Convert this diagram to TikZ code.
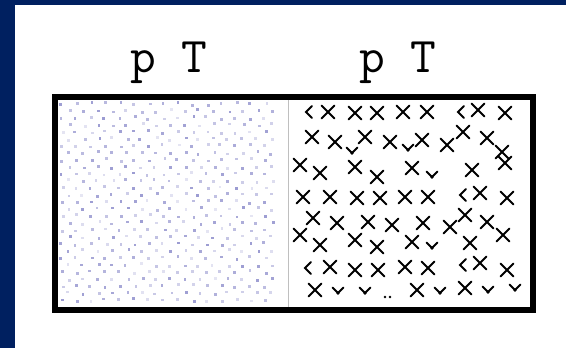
\documentclass[tikz,border=0pt]{standalone}
\definecolor{navy}{RGB}{0,32,96}
\definecolor{dotc}{RGB}{90,90,180}
\tikzset{
  xline/.style={line width=1.8pt, black, line cap=round},
  frame/.style={line width=6pt, line join=miter, black},
  lab/.style={font=\ttfamily\fontsize{50}{50}\selectfont, inner sep=0pt, anchor=base},
  divider/.style={line width=0.8pt, black!25},
}
\newcommand\mkX[2]{\draw[xline,shift={(#1,#2)}] (-6.5,-6.5) -- (6.5,6.5) (-6.5,6.5) -- (6.5,-6.5);}
\newcommand\mkV[2]{\draw[xline,shift={(#1,#2)}] (-5.5,-5.5) -- (0,0) -- (5.5,-5.5); \fill[shift={(#1,#2)}] (0,0) circle (1.8);}
\newcommand\mkL[2]{\draw[xline,shift={(#1,#2)}] (4,-6) -- (-2,0) -- (4,6);}
\begin{document}
\begin{tikzpicture}[x=1pt,y=-1pt]
  \useasboundingbox (0,0) rectangle (566,348);
  \fill[navy] (0,0) rectangle (566,348);
  \fill[white] (15,5) rectangle (566,348);
  % labels
  \node[lab] (lab1) at (169,72) {p T};
  \node[lab] (lab2) at (398,72) {p T};
  % left dots
  \pgfmathsetseed{3}
  \foreach \r in {0,...,28}{
    \foreach \c in {0,...,14}{
      \pgfmathsetmacro\px{62+\c*14.5+mod(\r,2)*7+rand*2}
      \pgfmathsetmacro\py{104+\r*7+rand*1.5}
      \pgfmathsetmacro\op{0.15+0.45*rnd}
      \fill[dotc,opacity=\op] (\px-1.4,\py-1.4) rectangle (\px+1.4,\py+1.4);
    }
  }
  % right crosses
  \mkL{308}{112} \mkX{328}{112} \mkX{355}{113} \mkX{377}{113} \mkX{403}{112} \mkX{427}{112} \mkL{460}{112} \mkX{478}{110} \mkX{505}{113}
  \mkX{312}{137} \mkX{335}{142} \mkX{365}{137} \mkX{390}{142} \mkX{422}{140} \mkX{447}{145} \mkX{463}{132} \mkX{487}{138} \mkX{502}{152}
  \mkV{352}{153} \mkV{408}{150}
  \mkX{300}{165} \mkX{320}{173} \mkX{355}{167} \mkX{377}{177} \mkX{412}{168} \mkV{432}{177} \mkX{472}{170} \mkX{505}{163}
  \mkX{303}{197} \mkX{330}{197} \mkX{357}{198} \mkX{380}{198} \mkX{405}{197} \mkX{428}{197} \mkL{462}{195} \mkX{480}{193} \mkX{507}{198}
  \mkX{313}{218} \mkX{337}{223} \mkX{368}{222} \mkX{392}{225} \mkX{423}{223} \mkX{450}{227} \mkX{465}{215} \mkX{487}{222} \mkX{503}{235} \mkX{300}{235}
  \mkX{320}{245} \mkX{355}{240} \mkX{377}{247} \mkX{412}{242} \mkV{432}{248} \mkX{470}{243}
  \mkL{307}{268} \mkX{330}{267} \mkX{355}{270} \mkX{378}{270} \mkX{405}{267} \mkX{428}{268} \mkL{462}{265} \mkX{480}{263} \mkX{507}{270}
  \mkX{315}{290} \mkV{338}{293} \mkV{365}{293} \fill (385,297) circle (1.3) (390,297) circle (1.3);
  \mkX{417}{290} \mkV{440}{293} \mkX{465}{288} \mkV{488}{292} \mkV{515}{290}
  % frame and divider
  \coordinate (dtop) at (288,97);
  \coordinate (dbot) at (288,310);
  \draw[divider] (dtop) -- (dbot);
  \draw[frame] (55,97) rectangle (533,310);
\end{tikzpicture}
\end{document}
